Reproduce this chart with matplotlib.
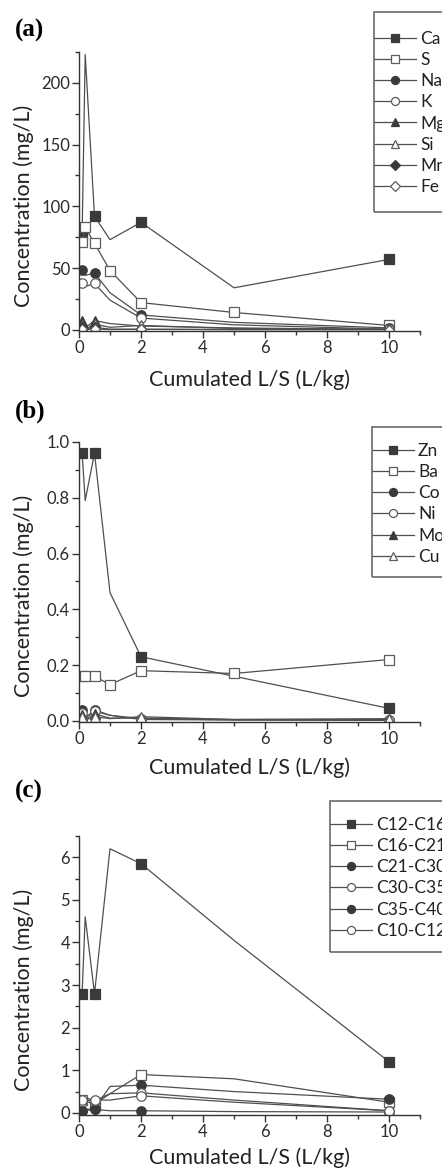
"""
Leaching curves: concentration vs cumulated L/S for three groups of species.
"""

import matplotlib
matplotlib.use('Agg')
import matplotlib.pyplot as plt
from matplotlib.patches import Rectangle
from matplotlib.ticker import MultipleLocator

plt.rcParams['font.family'] = ['Lato', 'DejaVu Sans']

W, H = 442, 1171

# cumulated L/S steps (L/kg)
ls_steps = [0.1, 0.2, 0.5, 1, 2, 5, 10]

# (a) major elements, mg/L
names_a = ['Ca', 'S', 'Na', 'K', 'Mg', 'Si', 'Mn', 'Fe']
ca = [77, 223, 92, 73, 87, 34, 57]
s = [71, 83, 70, 48, 22, 14, 3.5]
na = [48.5, 44, 46, 30, 12, 6, 1.5]
k = [38, 35, 37.5, 24, 9.5, 4, 0.5]
mg = [7.5, 1.5, 7.5, 5, 3, 1.5, 0.3]
si = [4, 0.5, 4.5, 2, 3.5, 1, 0.5]
mn = [2, 0.5, 2, 0.5, 0.5, 0.2, 0.1]
fe = [0.5, 0.2, 0.5, 0.2, 0.3, 0.1, 0.1]

# (b) trace metals, mg/L
names_b = ['Zn', 'Ba', 'Co', 'Ni', 'Mo', 'Cu']
zn = [0.96, 0.79, 0.96, 0.46, 0.23, 0.16, 0.045]
ba = [0.16, 0.16, 0.16, 0.13, 0.18, 0.17, 0.22]
co = [0.04, 0.01, 0.04, 0.02, 0.008, 0.004, 0.002]
ni = [0.03, 0.01, 0.035, 0.02, 0.005, 0.003, 0.002]
mo = [0.02, 0.005, 0.025, 0.01, 0.01, 0.005, 0.005]
cu = [0.015, 0.003, 0.015, 0.008, 0.015, 0.005, 0.008]

# (c) hydrocarbon fractions, mg/L
names_c = ['C12-C16', 'C16-C21', 'C21-C30', 'C30-C35', 'C35-C40', 'C10-C12']
c12_16 = [2.8, 4.6, 2.8, 6.2, 5.85, 4.05, 1.2]
c16_21 = [0.3, 0.28, 0.2, 0.45, 0.9, 0.8, 0.25]
c21_30 = [0.05, 0.08, 0.1, 0.62, 0.65, 0.5, 0.32]
c30_35 = [0.25, 0.3, 0.28, 0.45, 0.47, 0.3, 0.05]
c35_40 = [0.05, 0.05, 0.08, 0.05, 0.05, 0.03, 0.02]
c10_12 = [0.3, 0.35, 0.3, 0.3, 0.4, 0.25, 0.05]

LINE = '#4f4f4f'
DARK = '#3a3a3a'
OPEN_EDGE = '#5c5c5c'
AXIS = '#333333'

# marker style for each position in a legend
styles = [('s', True), ('s', False), ('o', True), ('o', False),
          ('^', True), ('^', False), ('D', True), ('D', False)]
styles_c = [('s', True), ('s', False), ('o', True), ('o', False),
            ('o', True), ('o', False)]


def draw_panel(fig, rect, names, series, markevery, marker_styles, ylim, ymajor,
               yminor, yfmt, box, tag, tag_y, xlabel_gap):
    """
    Draw one leaching panel with its legend box and tag.

    box: (left, top, bottom, first row centre) of the legend in pixels
    """
    ax = fig.add_axes(rect)
    for name, vals, every, (mk, filled) in zip(names, series, markevery, marker_styles):
        ax.plot(ls_steps, vals, color=LINE, lw=0.9, marker=mk,
                ms=6.8 if mk != 'D' else 5.5, markevery=every,
                mfc=DARK if filled else 'white',
                mec=DARK if filled else OPEN_EDGE, mew=0.9, label=name)

    ax.set_xlim(0, 11)
    ax.set_ylim(*ylim)
    ax.xaxis.set_major_locator(MultipleLocator(2))
    ax.xaxis.set_minor_locator(MultipleLocator(1))
    ax.yaxis.set_major_locator(MultipleLocator(ymajor))
    ax.yaxis.set_minor_locator(MultipleLocator(yminor))
    ax.yaxis.set_major_formatter(yfmt)
    ax.set_xticks([0, 2, 4, 6, 8, 10])

    for side in ['top', 'right']:
        ax.spines[side].set_visible(False)
    for side in ['left', 'bottom']:
        ax.spines[side].set_color(AXIS)
        ax.spines[side].set_linewidth(1.0)
    ax.tick_params(which='major', direction='out', length=5, width=1.0,
                   color=AXIS, labelsize=12, labelcolor='#2a2a2a', pad=1.5)
    ax.tick_params(which='minor', direction='out', length=3, width=1.0, color=AXIS)

    ax.set_xlabel('Cumulated L/S (L/kg)', fontsize=15.5, color='#222222', va='center')
    ax.xaxis.set_label_coords(0.5, -xlabel_gap / (rect[3] * H))
    ax.set_ylabel('Concentration (mg/L)', fontsize=15.5, color='#222222', va='center')
    ax.yaxis.set_label_coords((24 - rect[0] * W) / (rect[2] * W), 0.45)

    left, top, bottom, first = box
    leg = ax.legend(loc='center left', bbox_to_anchor=(left / W, 1 - first / H),
                    bbox_transform=fig.transFigure, frameon=False, borderpad=0,
                    borderaxespad=0, fontsize=12.5, handlelength=2.4,
                    handletextpad=0.25, labelspacing=0.3, markerscale=0.85)
    # measure one row so the first row lands on 'first'
    fig.canvas.draw()
    bb = leg.get_window_extent()
    row = bb.height / len(names)
    leg.set_bbox_to_anchor((left / W, 1 - (first - row / 2 + 3) / H), transform=fig.transFigure)
    leg.set_loc('upper left')
    for text in leg.get_texts():
        text.set_color('#222222')
    fig.add_artist(Rectangle((left / W, 1 - bottom / H), 0.5, (bottom - top) / H,
                             transform=fig.transFigure, fill=False,
                             edgecolor='#6a6a6a', lw=1.2))

    fig.text(15 / W, 1 - tag_y / H, tag, ha='left', va='center', fontsize=18,
             fontweight='bold', family=['Liberation Serif', 'DejaVu Serif'])
    return ax


fig = plt.figure(figsize=(W / 100, H / 100), dpi=100)

draw_panel(fig, [79 / W, 1 - 331 / H, 341 / W, 279 / H], names_a,
           [ca, s, na, k, mg, si, mn, fe],
           [[0, 2, 4, 6], None, [0, 2, 4, 6], [0, 2, 4, 6],
            [0, 2, 4, 6], [0, 2, 4, 6], [0, 2, 4, 6], [0, 2, 4, 6]],
           styles, (-1, 225), 50, 25, '{x:.0f}', (374, 12, 212, 38), '(a)', 30, 49)

draw_panel(fig, [79 / W, 1 - 722 / H, 341 / W, 280 / H], names_b,
           [zn, ba, co, ni, mo, cu],
           [[0, 2, 4, 6], None, [0, 2, 4, 6], [0, 2, 4, 6], [0, 2, 4, 6], [0, 2, 4, 6]],
           styles[:6], (-0.004, 1.0), 0.2, 0.1, '{x:.1f}', (372, 427, 577, 450), '(b)', 411, 46)

draw_panel(fig, [79 / W, 1 - 1115 / H, 341 / W, 279 / H], names_c,
           [c12_16, c16_21, c21_30, c30_35, c35_40, c10_12],
           [[0, 2, 4, 6], [0, 2, 4, 6], [0, 2, 4, 6], [0, 2, 4, 6], [0, 2, 4, 6], [0, 2, 4, 6]],
           styles_c, (-0.05, 6.5), 1, 0.5, '{x:.0f}', (330, 801, 952, 824), '(c)', 791, 43)

fig.savefig('out.png', dpi=100)
